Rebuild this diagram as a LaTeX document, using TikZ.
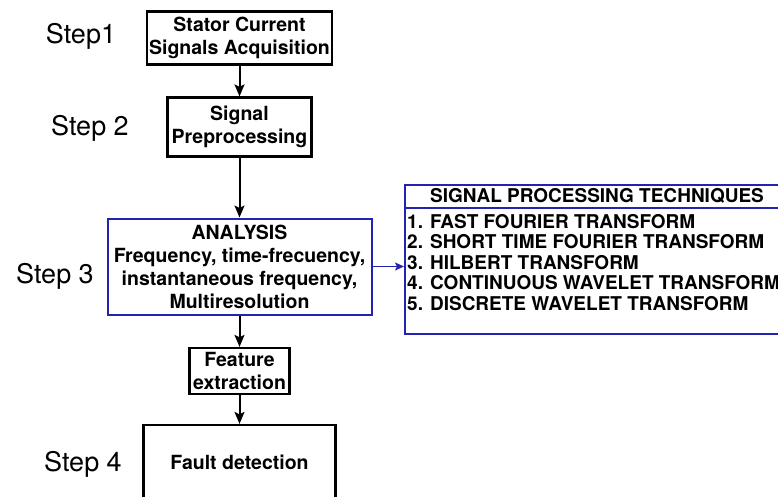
\documentclass[tikz,border=0pt]{standalone}
\usepackage{fontspec}
\setmainfont{TeX Gyre Heros}
\usetikzlibrary{arrows.meta}
\definecolor{myblue}{RGB}{35,35,175}
\begin{document}
\begin{tikzpicture}[x=1pt,y=-1pt,
  box/.style={draw=black, line width=2.2pt, inner sep=0pt, align=center,
    font=\bfseries\fontsize{19.5}{23}\selectfont},
  bbox/.style={box, draw=myblue, line width=2pt},
  steplbl/.style={font=\fontsize{27}{30}\selectfont, anchor=base, inner sep=0pt},
  item/.style={font=\bfseries\fontsize{19}{22}\selectfont, anchor=base west, inner sep=0pt},
  arr/.style={line width=2pt, -{Stealth[length=12pt,width=10pt,inset=2.5pt]}},
  barr/.style={draw=myblue, line width=1.6pt, -{Stealth[length=9pt,width=8pt,inset=2pt]}},
]
\useasboundingbox (0,0) rectangle (778,497);
% step labels
\node[steplbl] (l1) at (81,44) {Step1};
\node[steplbl] (l2) at (90,136) {Step 2};
\node[steplbl] (l3) at (55,283) {Step 3};
\node[steplbl] (l4) at (83,471) {Step 4};
% main boxes
\node[box, minimum width=185pt, minimum height=53pt] (s1) at (239.5,38) {Stator Current\\Signals Acquisition};
\node[box, minimum width=144pt, minimum height=59pt] (s2) at (239.5,127) {Signal\\Preprocessing};
\node[bbox, minimum width=264pt, minimum height=96pt] (ana) at (239.5,266.5) {ANALYSIS\\Frequency, time-frecuency,\\instantaneous frequency,\\Multiresolution};
\node[box, minimum width=100pt, minimum height=46pt] (fe) at (239.5,371) {Feature\\extraction};
\node[box, minimum width=192pt, minimum height=75pt] (fd) at (239.5,462.5) {Fault detection};
% techniques box
\node[bbox, minimum width=390pt, minimum height=149pt, anchor=north west] (sp) at (404,184) {};
\coordinate (hl) at (0,208);
\draw[myblue, line width=2pt] (sp.west |- hl) -- (sp.east |- hl);
\node[item, anchor=base] (h) at (597,202) {SIGNAL PROCESSING TECHNIQUES};
\node[item] (t1) at (407,228) {1. FAST FOURIER TRANSFORM};
\node[item] (t2) at (407,248.5) {2. SHORT TIME FOURIER TRANSFORM};
\node[item] (t3) at (407,269) {3. HILBERT TRANSFORM};
\node[item] (t4) at (407,289.5) {4. CONTINUOUS WAVELET TRANSFORM};
\node[item] (t5) at (407,310) {5. DISCRETE WAVELET TRANSFORM};
% connectors
\draw[arr] (s1) -- (s2);
\draw[arr] (s2) -- (ana);
\draw[arr] (ana) -- (fe);
\draw[arr] (fe) -- (fd);
\draw[barr] (ana.east) -- (ana.east -| sp.west);
\end{tikzpicture}
\end{document}
